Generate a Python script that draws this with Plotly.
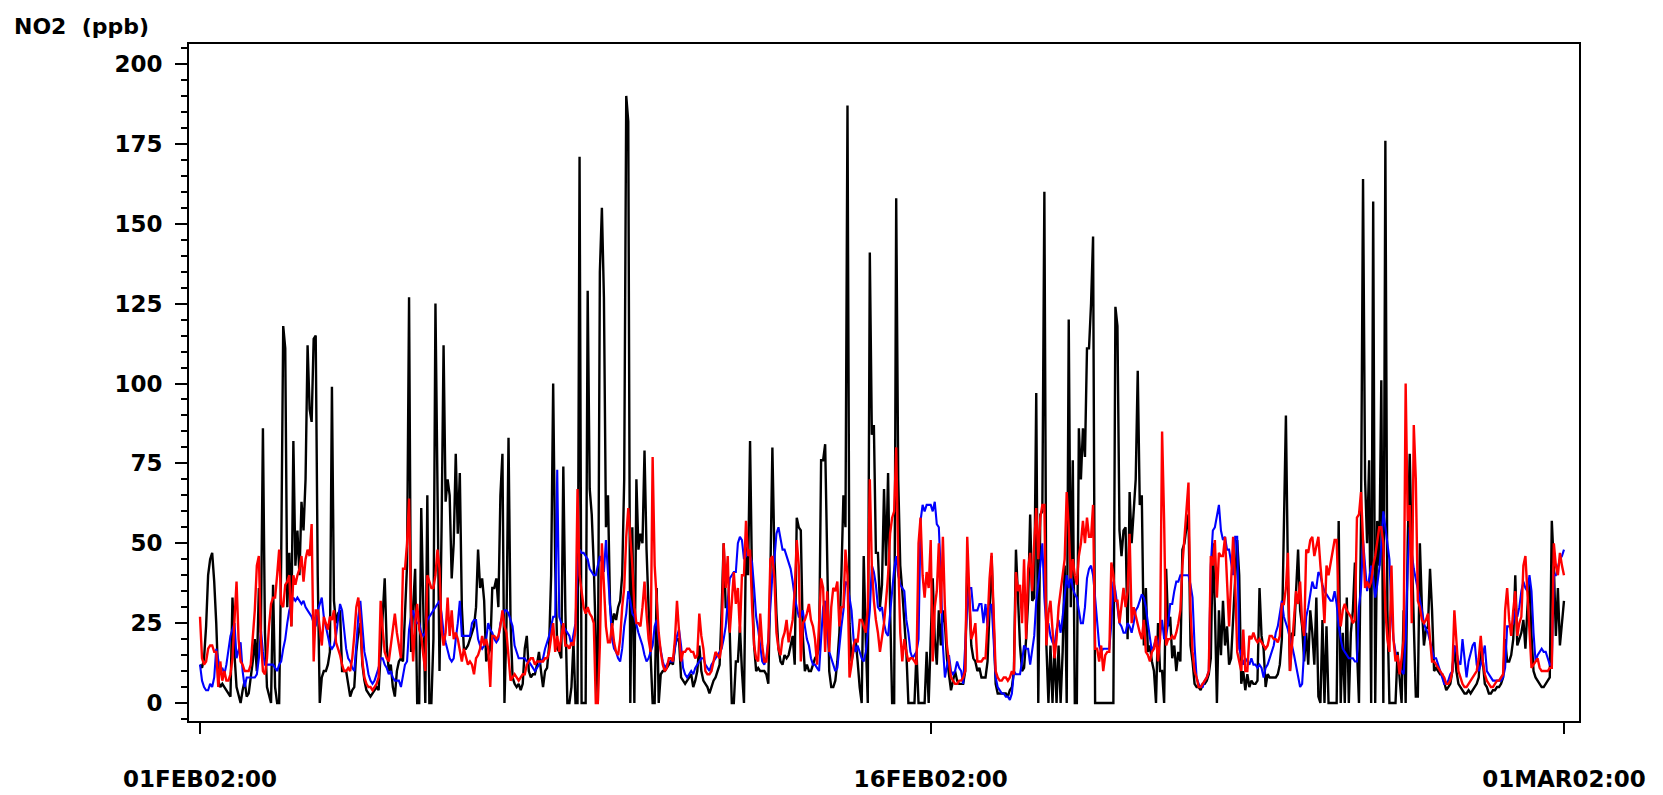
import pandas as pd
import plotly.graph_objects as go

# Hourly NO2 concentrations (ppb), 01FEB2002 00:00 to 01MAR2002 00:00, one row per day
no2_black = [
    12, 11, 14, 24, 40, 45, 47, 38, 25, 7, 5, 6, 5, 4, 3, 2, 33, 15, 5, 2, 0, 4, 7, 2,
    3, 8, 13, 20, 10, 36, 22, 86, 22, 5, 2, 0, 37, 5, 0, 0, 45, 118, 111, 30, 47, 24, 82, 43,
    54, 40, 63, 54, 70, 112, 92, 88, 114, 115, 40, 0, 8, 10, 10, 12, 16, 99, 32, 25, 28, 29, 10, 10,
    10, 6, 2, 4, 5, 16, 22, 25, 12, 7, 4, 3, 2, 3, 4, 5, 4, 16, 30, 39, 18, 10, 12, 5,
    2, 10, 13, 14, 13, 29, 43, 127, 16, 30, 42, 0, 0, 61, 29, 0, 65, 0, 0, 20, 125, 57, 10, 54,
    112, 63, 70, 65, 39, 50, 78, 53, 72, 30, 17, 17, 18, 20, 22, 24, 30, 48, 36, 39, 32, 13, 15, 17,
    36, 36, 39, 30, 65, 78, 0, 25, 83, 25, 8, 6, 5, 6, 4, 6, 17, 21, 10, 8, 9, 9, 12, 16,
    10, 5, 10, 11, 18, 40, 100, 43, 17, 16, 14, 74, 29, 0, 0, 5, 19, 0, 0, 171, 0, 0, 0, 129,
    67, 59, 43, 20, 0, 135, 155, 127, 55, 65, 31, 24, 28, 26, 30, 32, 40, 70, 190, 182, 0, 55, 0, 70,
    48, 53, 50, 79, 48, 30, 16, 0, 0, 36, 0, 9, 10, 10, 11, 12, 13, 12, 18, 20, 20, 8, 7, 6,
    7, 8, 9, 5, 7, 10, 18, 10, 7, 6, 5, 3, 5, 7, 8, 10, 12, 29, 50, 30, 30, 22, 0, 0,
    13, 13, 24, 10, 0, 51, 40, 82, 37, 18, 10, 11, 10, 10, 10, 9, 6, 40, 80, 46, 28, 17, 13, 12,
    15, 14, 15, 18, 21, 12, 58, 55, 54, 21, 10, 12, 10, 10, 12, 14, 15, 17, 76, 76, 81, 43, 10, 5,
    5, 7, 13, 22, 40, 65, 55, 187, 25, 13, 17, 20, 13, 5, 0, 46, 20, 0, 141, 84, 87, 47, 47, 30,
    37, 67, 43, 72, 30, 0, 0, 158, 70, 43, 35, 25, 16, 0, 0, 0, 0, 16, 0, 0, 0, 0, 16, 0,
    20, 39, 20, 12, 29, 18, 29, 25, 14, 9, 4, 7, 10, 7, 6, 6, 6, 10, 43, 32, 18, 14, 13, 10,
    11, 8, 8, 8, 13, 32, 46, 25, 6, 3, 3, 3, 3, 3, 2, 4, 5, 10, 48, 32, 18, 10, 11, 20,
    32, 59, 32, 33, 97, 0, 59, 60, 160, 18, 0, 18, 0, 18, 0, 18, 0, 16, 43, 0, 120, 30, 76, 0,
    0, 86, 70, 86, 77, 111, 111, 125, 146, 0, 0, 0, 0, 0, 0, 0, 0, 0, 0, 124, 118, 54, 46, 54,
    55, 20, 66, 50, 62, 70, 104, 62, 65, 18, 36, 16, 18, 13, 10, 0, 25, 10, 10, 0, 42, 24, 27, 14,
    18, 10, 16, 13, 48, 50, 55, 59, 18, 13, 6, 5, 5, 4, 6, 6, 7, 9, 14, 50, 30, 0, 29, 15,
    32, 18, 24, 12, 14, 25, 39, 51, 40, 6, 10, 4, 9, 5, 7, 6, 6, 7, 36, 21, 17, 5, 9, 8,
    8, 8, 8, 9, 12, 20, 50, 90, 40, 10, 22, 21, 35, 48, 29, 24, 13, 22, 12, 29, 22, 12, 33, 2,
    0, 26, 0, 24, 0, 0, 0, 0, 0, 57, 0, 22, 0, 33, 0, 22, 29, 44, 17, 0, 57, 164, 70, 50,
    76, 0, 157, 0, 57, 43, 101, 0, 176, 29, 0, 0, 0, 0, 16, 8, 0, 29, 0, 50, 78, 48, 22, 2,
    2, 50, 30, 18, 23, 24, 42, 29, 10, 11, 10, 9, 9, 6, 4, 5, 6, 10, 18, 10, 6, 5, 4, 3,
    3, 4, 3, 4, 5, 6, 8, 18, 13, 6, 5, 3, 3, 4, 4, 5, 5, 6, 8, 20, 13, 13, 15, 20,
    40, 18, 20, 22, 26, 17, 30, 38, 21, 10, 8, 7, 6, 5, 5, 6, 7, 8, 57, 43, 21, 36, 18, 25, 32,
]

no2_blue = [
    12, 7, 5, 4, 4, 6, 5, 8, 17, 13, 10, 11, 9, 12, 16, 21, 23, 25, 14, 17, 19, 10, 5, 8,
    8, 8, 8, 8, 9, 14, 23, 16, 12, 12, 12, 12, 12, 11, 10, 12, 13, 17, 20, 25, 29, 31, 33, 32,
    33, 32, 31, 32, 30, 29, 28, 27, 25, 24, 29, 31, 33, 27, 24, 21, 18, 17, 18, 21, 26, 31, 29, 23,
    17, 14, 13, 11, 10, 18, 27, 32, 24, 16, 13, 9, 7, 6, 7, 9, 11, 14, 14, 12, 11, 9, 10, 8,
    7, 7, 7, 5, 8, 12, 13, 23, 27, 29, 26, 25, 25, 22, 21, 22, 26, 27, 28, 29, 30, 31, 32, 28,
    22, 19, 16, 14, 13, 14, 20, 25, 32, 21, 21, 21, 21, 21, 25, 26, 26, 20, 18, 17, 18, 20, 25, 23,
    22, 20, 19, 20, 25, 27, 29, 29, 28, 26, 24, 18, 16, 14, 14, 14, 14, 13, 13, 12, 11, 10, 11, 12,
    13, 14, 17, 19, 21, 24, 27, 27, 73, 27, 25, 24, 23, 22, 21, 18, 21, 25, 43, 48, 47, 47, 46, 45,
    42, 41, 40, 40, 43, 46, 44, 41, 51, 40, 28, 20, 17, 16, 14, 13, 17, 24, 28, 35, 32, 28, 27, 24,
    22, 20, 18, 15, 13, 14, 16, 18, 24, 26, 20, 16, 13, 11, 12, 13, 13, 13, 17, 21, 23, 18, 11, 9,
    8, 9, 10, 9, 11, 12, 13, 14, 14, 12, 11, 10, 12, 13, 14, 15, 16, 17, 20, 24, 32, 39, 40, 41,
    41, 50, 52, 51, 45, 46, 48, 46, 44, 36, 27, 23, 17, 13, 12, 14, 20, 30, 40, 45, 53, 55, 51, 48,
    48, 46, 44, 42, 38, 33, 30, 27, 27, 29, 24, 20, 18, 14, 12, 12, 11, 10, 20, 30, 32, 22, 16, 14,
    12, 10, 11, 18, 24, 29, 38, 37, 33, 29, 20, 16, 18, 16, 14, 13, 16, 22, 29, 43, 41, 37, 30, 29,
    30, 25, 22, 21, 28, 36, 42, 46, 40, 37, 36, 35, 26, 22, 16, 14, 15, 16, 20, 57, 62, 60, 62, 62,
    62, 60, 63, 56, 55, 40, 18, 8, 12, 15, 10, 9, 10, 13, 11, 10, 6, 20, 30, 36, 36, 29, 29, 29,
    31, 31, 25, 31, 24, 30, 31, 20, 8, 5, 4, 3, 3, 2, 2, 1, 3, 10, 9, 9, 9, 13, 18, 17,
    17, 12, 16, 21, 32, 37, 43, 50, 33, 24, 25, 21, 19, 18, 23, 26, 22, 27, 33, 40, 36, 40, 36, 34,
    33, 29, 25, 25, 30, 39, 42, 43, 40, 33, 25, 18, 16, 17, 17, 17, 17, 25, 38, 35, 29, 25, 24, 22,
    22, 25, 24, 22, 25, 29, 30, 32, 34, 33, 30, 25, 20, 16, 18, 20, 18, 21, 26, 20, 21, 25, 31, 31,
    35, 38, 38, 40, 40, 40, 40, 40, 37, 33, 18, 8, 6, 5, 5, 7, 8, 10, 43, 54, 55, 58, 62, 54,
    51, 52, 48, 48, 44, 40, 52, 52, 17, 15, 12, 14, 13, 12, 14, 12, 12, 11, 12, 11, 8, 11, 12, 14,
    16, 18, 22, 24, 28, 32, 27, 25, 23, 20, 18, 15, 12, 8, 5, 6, 17, 27, 30, 34, 38, 36, 36, 41,
    40, 37, 35, 34, 33, 32, 32, 35, 31, 24, 20, 17, 16, 15, 14, 14, 14, 13, 13, 30, 36, 51, 43, 35,
    39, 43, 39, 33, 37, 42, 49, 60, 55, 50, 45, 29, 20, 16, 13, 11, 10, 9, 20, 43, 55, 47, 42, 39,
    36, 33, 29, 25, 23, 22, 19, 16, 14, 14, 12, 10, 8, 6, 6, 7, 9, 10, 18, 16, 13, 12, 20, 14,
    8, 13, 16, 18, 19, 12, 10, 12, 15, 18, 10, 9, 8, 7, 7, 7, 7, 7, 8, 11, 24, 24, 24, 25,
    29, 27, 30, 35, 38, 36, 35, 40, 35, 22, 13, 15, 16, 17, 16, 16, 14, 12, 12, 40, 40, 43, 45, 46, 48,
]

no2_red = [
    27, 14, 12, 13, 17, 18, 18, 16, 16, 5, 13, 7, 10, 7, 7, 9, 14, 25, 38, 20, 13, 12, 10, 10,
    10, 12, 20, 29, 43, 46, 20, 10, 9, 14, 24, 31, 33, 33, 40, 48, 31, 30, 37, 38, 40, 24, 40, 37,
    40, 42, 46, 38, 45, 48, 46, 56, 13, 29, 29, 23, 18, 27, 25, 23, 27, 26, 29, 19, 17, 15, 12, 10,
    10, 11, 10, 14, 21, 30, 33, 26, 13, 8, 6, 5, 5, 4, 5, 6, 8, 32, 23, 16, 14, 13, 18, 24,
    28, 22, 18, 14, 42, 42, 50, 64, 29, 13, 25, 31, 23, 21, 15, 10, 40, 38, 36, 36, 40, 48, 42, 23,
    18, 22, 33, 21, 29, 20, 22, 20, 16, 13, 17, 14, 12, 13, 12, 9, 14, 15, 17, 21, 18, 20, 17, 5,
    21, 21, 20, 21, 24, 29, 24, 22, 13, 7, 8, 9, 8, 7, 8, 9, 9, 12, 13, 14, 14, 12, 13, 13,
    13, 13, 14, 14, 16, 20, 25, 16, 21, 16, 20, 25, 18, 18, 17, 19, 18, 23, 67, 40, 35, 30, 28, 30,
    28, 27, 25, 0, 0, 18, 50, 36, 24, 19, 19, 25, 19, 16, 15, 20, 30, 36, 52, 61, 52, 43, 30, 25,
    25, 24, 30, 38, 28, 20, 16, 77, 43, 33, 22, 16, 12, 10, 11, 14, 14, 13, 20, 32, 22, 13, 16, 16,
    17, 17, 16, 16, 14, 15, 28, 21, 17, 10, 9, 9, 10, 13, 16, 15, 14, 18, 50, 36, 46, 22, 33, 41,
    31, 36, 22, 40, 40, 57, 46, 48, 30, 18, 14, 13, 28, 18, 13, 13, 19, 45, 46, 39, 22, 17, 15, 20,
    22, 26, 19, 22, 26, 35, 51, 43, 13, 25, 26, 28, 31, 26, 24, 20, 12, 25, 39, 36, 16, 35, 16, 30,
    36, 35, 38, 24, 30, 30, 48, 40, 8, 12, 18, 20, 19, 26, 26, 24, 22, 30, 70, 43, 32, 26, 22, 16,
    20, 25, 32, 40, 53, 58, 60, 80, 45, 22, 13, 20, 16, 13, 14, 14, 13, 12, 50, 58, 40, 33, 41, 36,
    51, 13, 30, 35, 50, 28, 52, 30, 18, 13, 8, 7, 6, 6, 7, 7, 8, 10, 52, 35, 20, 22, 25, 13,
    13, 13, 14, 14, 25, 39, 47, 25, 10, 8, 7, 7, 8, 8, 7, 8, 10, 9, 41, 35, 37, 25, 45, 20,
    42, 47, 35, 50, 61, 45, 58, 62, 62, 18, 28, 32, 24, 14, 20, 30, 35, 40, 45, 66, 55, 39, 45, 40,
    37, 46, 50, 57, 50, 58, 52, 52, 62, 17, 17, 13, 18, 10, 15, 16, 16, 44, 40, 32, 32, 25, 30, 36,
    30, 35, 53, 25, 30, 27, 25, 22, 20, 26, 16, 15, 13, 16, 17, 21, 13, 20, 85, 57, 18, 20, 20, 21,
    20, 22, 25, 29, 43, 52, 60, 69, 29, 16, 10, 8, 5, 5, 6, 7, 8, 10, 46, 43, 51, 33, 47, 46,
    46, 52, 40, 24, 38, 52, 38, 16, 13, 10, 23, 10, 10, 21, 20, 22, 20, 19, 20, 19, 18, 17, 18, 21,
    21, 20, 20, 19, 21, 31, 31, 36, 47, 10, 18, 26, 35, 31, 38, 25, 21, 48, 47, 51, 52, 46, 49, 52,
    43, 36, 25, 43, 40, 44, 48, 51, 51, 31, 24, 29, 31, 29, 28, 27, 25, 26, 58, 59, 66, 51, 36, 38,
    36, 38, 43, 46, 51, 55, 55, 50, 29, 20, 16, 43, 20, 13, 15, 9, 14, 20, 100, 57, 62, 25, 87, 70,
    32, 30, 26, 25, 26, 28, 20, 13, 13, 12, 11, 10, 9, 8, 6, 6, 7, 10, 29, 18, 10, 8, 6, 5,
    5, 6, 7, 8, 9, 10, 14, 21, 13, 9, 7, 6, 5, 5, 6, 7, 7, 8, 9, 29, 36, 26, 21, 29,
    35, 21, 25, 27, 43, 46, 34, 21, 11, 12, 13, 14, 11, 10, 10, 10, 10, 11, 11, 50, 43, 40, 47, 43, 40,
]

tick_dates = ["2002-02-01", "2002-02-16", "2002-03-01"]
tick_labels = ["01FEB02:00", "16FEB02:00", "01MAR02:00"]

start = pd.Timestamp("2002-02-01 00:00")


def hourly(values):
    return pd.date_range(start, periods=len(values), freq="h")


font_name = "DejaVu Sans"
label_font = dict(family=font_name, size=23, color="black", weight="bold")

fig = go.Figure()
for values, colour, width in [
    (no2_black, "#000000", 2.4),
    (no2_blue, "#0000ff", 2.1),
    (no2_red, "#ff0000", 2.4),
]:
    fig.add_trace(
        go.Scatter(
            x=hourly(values),
            y=values,
            mode="lines",
            line=dict(color=colour, width=width),
            showlegend=False,
            hoverinfo="skip",
        )
    )

fig.update_layout(
    width=1663,
    height=795,
    paper_bgcolor="white",
    plot_bgcolor="white",
    margin=dict(l=189, r=84, t=44, b=74, autoexpand=False),
    font=label_font,
    annotations=[
        dict(
            text="NO2  (ppb)",
            xref="paper",
            yref="paper",
            x=-0.127,
            y=1.0,
            xanchor="left",
            yanchor="bottom",
            yshift=3,
            showarrow=False,
            font=dict(family=font_name, size=22, color="black", weight="bold"),
        )
    ],
)

fig.update_xaxes(
    range=[start - pd.Timedelta(hours=5.42), start + pd.Timedelta(hours=679.4)],
    tickmode="array",
    tickvals=tick_dates,
    ticktext=tick_labels,
    ticks="outside",
    ticklen=11,
    tickwidth=2,
    tickcolor="black",
    ticklabelstandoff=25,
    showline=True,
    linecolor="black",
    linewidth=2,
    mirror=True,
    showgrid=False,
    zeroline=False,
    automargin=False,
    tickfont=label_font,
)

fig.update_yaxes(
    range=[-5.63, 206.26],
    tickmode="linear",
    tick0=0,
    dtick=25,
    ticks="outside",
    ticklen=12,
    tickwidth=2,
    tickcolor="black",
    ticklabelstandoff=8,
    minor=dict(dtick=5, ticks="outside", ticklen=6, tickwidth=1.5, tickcolor="black"),
    showline=True,
    linecolor="black",
    linewidth=2,
    mirror=True,
    showgrid=False,
    zeroline=False,
    automargin=False,
    tickfont=label_font,
)

fig.write_html("out.html")
